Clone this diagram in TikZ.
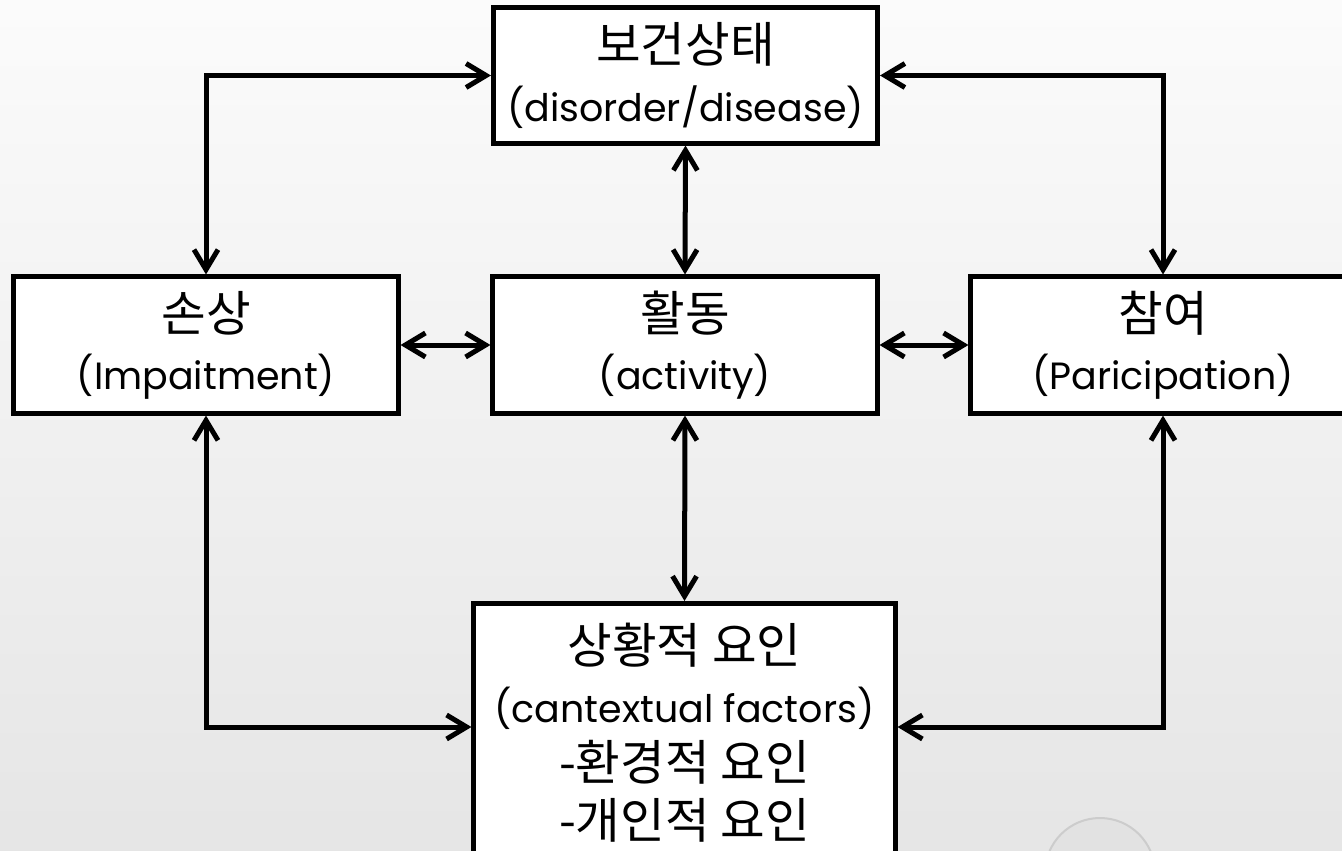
\documentclass[tikz,border=0pt]{standalone}
\usepackage{fontspec}
\setmainfont{Poppins}
\newfontfamily\krfont{Noto Sans CJK KR}
\usetikzlibrary{arrows.meta}
\newcommand{\lat}{\fontsize{27}{41.3}\selectfont}
\newcommand{\kor}[1]{{\krfont\fontsize{34.5}{41.3}\selectfont #1}}

\begin{document}
\begin{tikzpicture}[
  x=0.025cm, y=-0.025cm,
  box/.style={
    draw, line width=1.25mm, fill=white, align=center,
    minimum width=9.6cm, inner sep=0pt, font=\lat
  },
  link/.style={
    line width=1.25mm,
    {Straight Barb[length=5mm,width=6mm]}-{Straight Barb[length=5mm,width=6mm]}
  }
]
  \useasboundingbox (0,0) rectangle (1342,850);
  \clip (0,0) rectangle (1342,850);
  \shade[top color=gray!3, bottom color=gray!20] (0,0) rectangle (1342,850);
  \draw[white!80!black, line width=0.5mm, fill=white!88!black, fill opacity=0.5] (1100,873) circle (55);

  % boxes
  \node[box, minimum height=3.375cm] (health) at (685.5,75.5) {\kor{보건상태}\\(disorder/disease)};
  \node[box, minimum height=3.4cm] (impair) at (206,345) {\kor{손상}\\(Impaitment)};
  \node[box, minimum height=3.4cm] (activ) at (685,345) {\kor{활동}\\(activity)};
  \node[box, minimum height=3.4cm] (partic) at (1163,345) {\kor{참여}\\(Paricipation)};
  \node[box, minimum width=10.525cm, anchor=north, inner ysep=5mm] (context) at (684.5,601)
    {\kor{상황적 요인}\\(cantextual factors)\\\kor{-환경적 요인}\\\kor{-개인적 요인}};
  \coordinate (ctxL) at (context.west |- 0,727);
  \coordinate (ctxR) at (context.east |- 0,727);

  % links
  \draw[link] (health.west) -| (impair.north);
  \draw[link] (health.east) -| (partic.north);
  \draw[link] (health.south) -- (activ.north);
  \draw[link] (impair.east) -- (activ.west);
  \draw[link] (activ.east) -- (partic.west);
  \draw[link] (activ.south) -- (context.north);
  \draw[link] (impair.south) |- (ctxL);
  \draw[link] (partic.south) |- (ctxR);
\end{tikzpicture}
\end{document}
